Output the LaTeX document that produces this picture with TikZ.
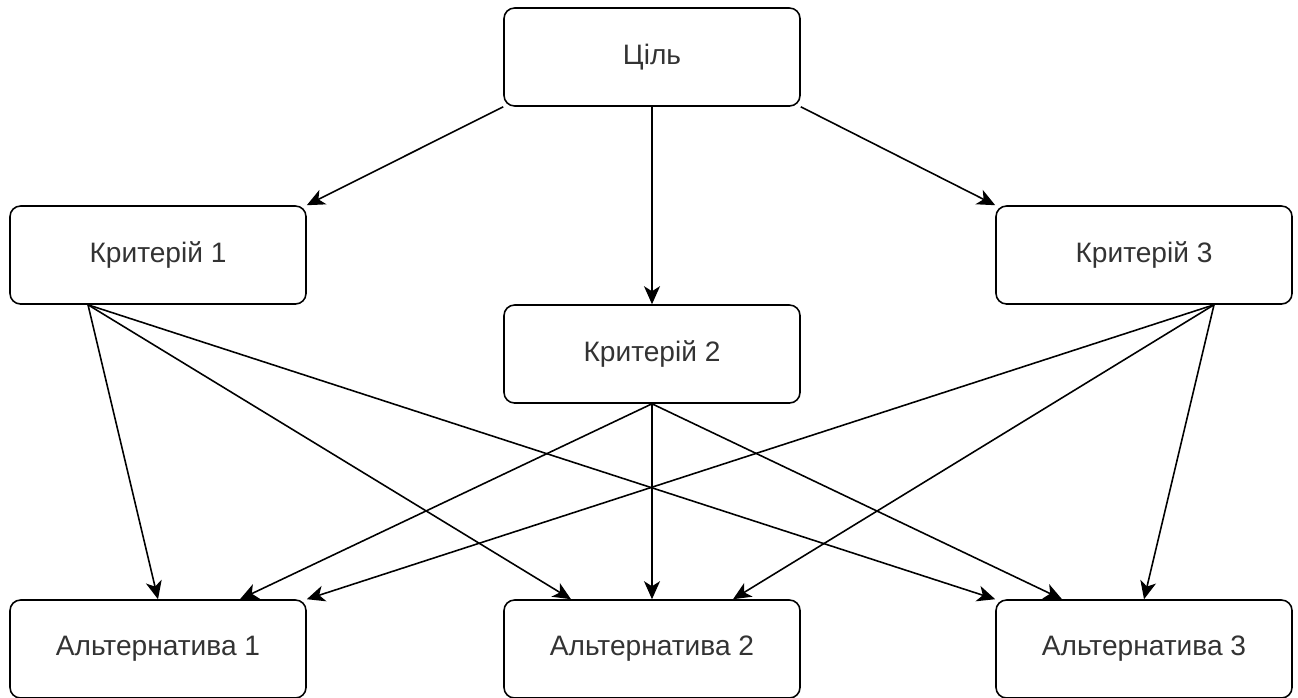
\documentclass[tikz,border=0pt]{standalone}
\usepackage{fontspec}
\setsansfont{Liberation Sans}
\usepackage{tikz}
\usetikzlibrary{arrows.meta}

\begin{document}
\begin{tikzpicture}[
  box/.style={draw, rounded corners=6pt, minimum width=5.92cm, minimum height=1.96cm, line width=0.9pt, align=center, text=black!80, font=\sffamily\fontsize{16}{19}\selectfont},
  link/.style={-{Stealth[length=3.6mm, width=3.2mm, inset=1mm]}, line width=0.9pt},
]
\useasboundingbox (0,0) rectangle (25.96,-13.94);
% === Goal ===
\node[box] (goal) at (13.04,-1.14) {Ціль};
% === Criteria ===
\node[box] (crit1) at (3.16,-5.10) {Критерій 1};
\node[box] (crit2) at (13.04,-7.08) {Критерій 2};
\node[box] (crit3) at (22.88,-5.10) {Критерій 3};
% === Alternatives ===
\node[box] (alt1) at (3.16,-12.98) {Альтернатива 1};
\node[box] (alt2) at (13.04,-12.98) {Альтернатива 2};
\node[box] (alt3) at (22.88,-12.98) {Альтернатива 3};
% goal -> criteria
\draw[link] (goal.south west) -- (crit1.north east);
\draw[link] (goal.south) -- (crit2.north);
\draw[link] (goal.south east) -- (crit3.north west);
% criterion 1 -> alternatives
\draw[link] ([xshift=-1.4cm]crit1.south) -- (alt1.north);
\draw[link] ([xshift=-1.4cm]crit1.south) -- ([xshift=-1.62cm]alt2.north);
\draw[link] ([xshift=-1.4cm]crit1.south) -- (alt3.north west);
% criterion 2 -> alternatives
\draw[link] (crit2.south) -- ([xshift=1.64cm]alt1.north);
\draw[link] (crit2.south) -- (alt2.north);
\draw[link] (crit2.south) -- ([xshift=-1.64cm]alt3.north);
% criterion 3 -> alternatives
\draw[link] ([xshift=1.4cm]crit3.south) -- (alt1.north east);
\draw[link] ([xshift=1.4cm]crit3.south) -- ([xshift=1.62cm]alt2.north);
\draw[link] ([xshift=1.4cm]crit3.south) -- (alt3.north);
\end{tikzpicture}
\end{document}
